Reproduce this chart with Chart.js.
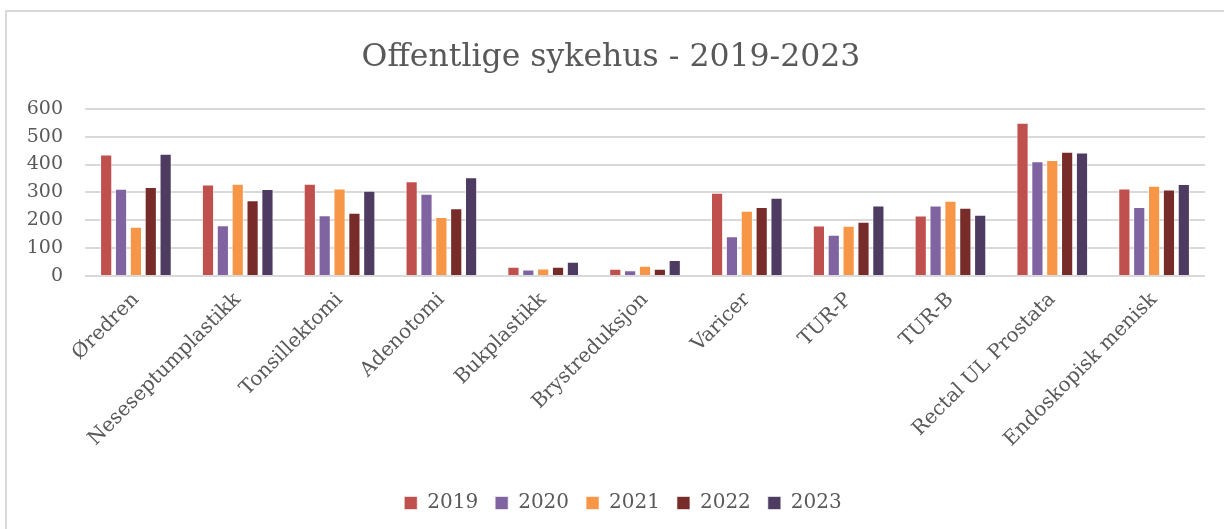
<!DOCTYPE html>
<html>
<head>
<meta charset="utf-8">
<script src="https://cdn.jsdelivr.net/npm/chart.js@4.4.1/dist/chart.umd.min.js"></script>
<style>
  html, body { margin: 0; padding: 0; background: #fff; width: 1224px; height: 529px; overflow: hidden; }
  #frame { position: absolute; left: 5px; top: 10px; width: 1230px; height: 530px; border-left: 2px solid #d9d9d9; border-top: 2px solid #d9d9d9; }
  #wrap { position: absolute; left: 7px; top: 12px; width: 1217px; height: 517px; }
</style>
</head>
<body>
<div id="frame"></div>
<div id="wrap"><canvas id="c"></canvas></div>
<script>
const categories = ["Øredren", "Neseseptumplastikk", "Tonsillektomi", "Adenotomi", "Bukplastikk", "Brystreduksjon", "Varicer", "TUR-P", "TUR-B", "Rectal UL Prostata", "Endoskopisk menisk"];
const years = ["2019", "2020", "2021", "2022", "2023"];
const v2019 = [436, 328, 331, 340, 33, 26, 299, 181, 217, 550, 314];
const v2020 = [313, 182, 218, 295, 23, 21, 143, 148, 253, 412, 248];
const v2021 = [177, 331, 314, 212, 27, 37, 234, 180, 270, 416, 324];
const v2022 = [319, 272, 227, 243, 33, 26, 248, 195, 245, 446, 310];
const v2023 = [439, 312, 306, 354, 51, 57, 281, 253, 220, 443, 330];
const yTicks = [0, 100, 200, 300, 400, 500, 600];
const colors = ["#C0504D", "#8064A2", "#F79646", "#772C2A", "#4D3B62"];
const series = [v2019, v2020, v2021, v2022, v2023];

const FONT = "'DejaVu Serif', serif";

const shiftLegend = {
  id: 'shiftLegend',
  afterLayout(chart) {
    if (chart.legend) { chart.legend.left += 12; chart.legend.right += 12; }
  }
};

new Chart(document.getElementById('c'), {
  type: 'bar',
  data: {
    labels: categories,
    datasets: years.map((y, i) => ({
      label: y,
      data: series[i],
      backgroundColor: colors[i],
      borderColor: 'rgba(255,255,255,0.6)',
      borderWidth: 1,
      barPercentage: 0.82,
      categoryPercentage: 0.73
    }))
  },
  plugins: [shiftLegend],
  options: {
    responsive: true,
    maintainAspectRatio: false,
    animation: false,
    layout: { padding: { left: 10, right: 19, top: 27, bottom: 6 } },
    plugins: {
      title: {
        display: true,
        text: 'Offentlige sykehus - 2019-2023',
        color: '#595959',
        font: { family: FONT, size: 31.5, weight: 'normal' },
        padding: { top: 0, bottom: 32 }
      },
      legend: {
        position: 'bottom',
        labels: {
          color: '#595959',
          font: { family: FONT, size: 20 },
          boxWidth: 13, boxHeight: 13,
          padding: 17
        }
      },
      tooltip: { enabled: false }
    },
    scales: {
      x: {
        grid: { display: false, drawTicks: false },
        border: { display: false },
        afterFit: (axis) => { axis.height = 200; },
        ticks: {
          color: '#595959',
          font: { family: FONT, size: 20 },
          minRotation: 45, maxRotation: 45,
          padding: 12,
          autoSkip: false
        }
      },
      y: {
        min: 0, max: 600,
        afterBuildTicks: (axis) => { axis.ticks = yTicks.map(v => ({ value: v })); },
        afterFit: (axis) => { axis.width = 68; },
        grid: { color: '#d9d9d9', lineWidth: 2, drawTicks: false },
        border: { display: false },
        ticks: {
          color: '#595959',
          font: { family: FONT, size: 19 },
          padding: 22
        }
      }
    }
  }
});
</script>
</body>
</html>
